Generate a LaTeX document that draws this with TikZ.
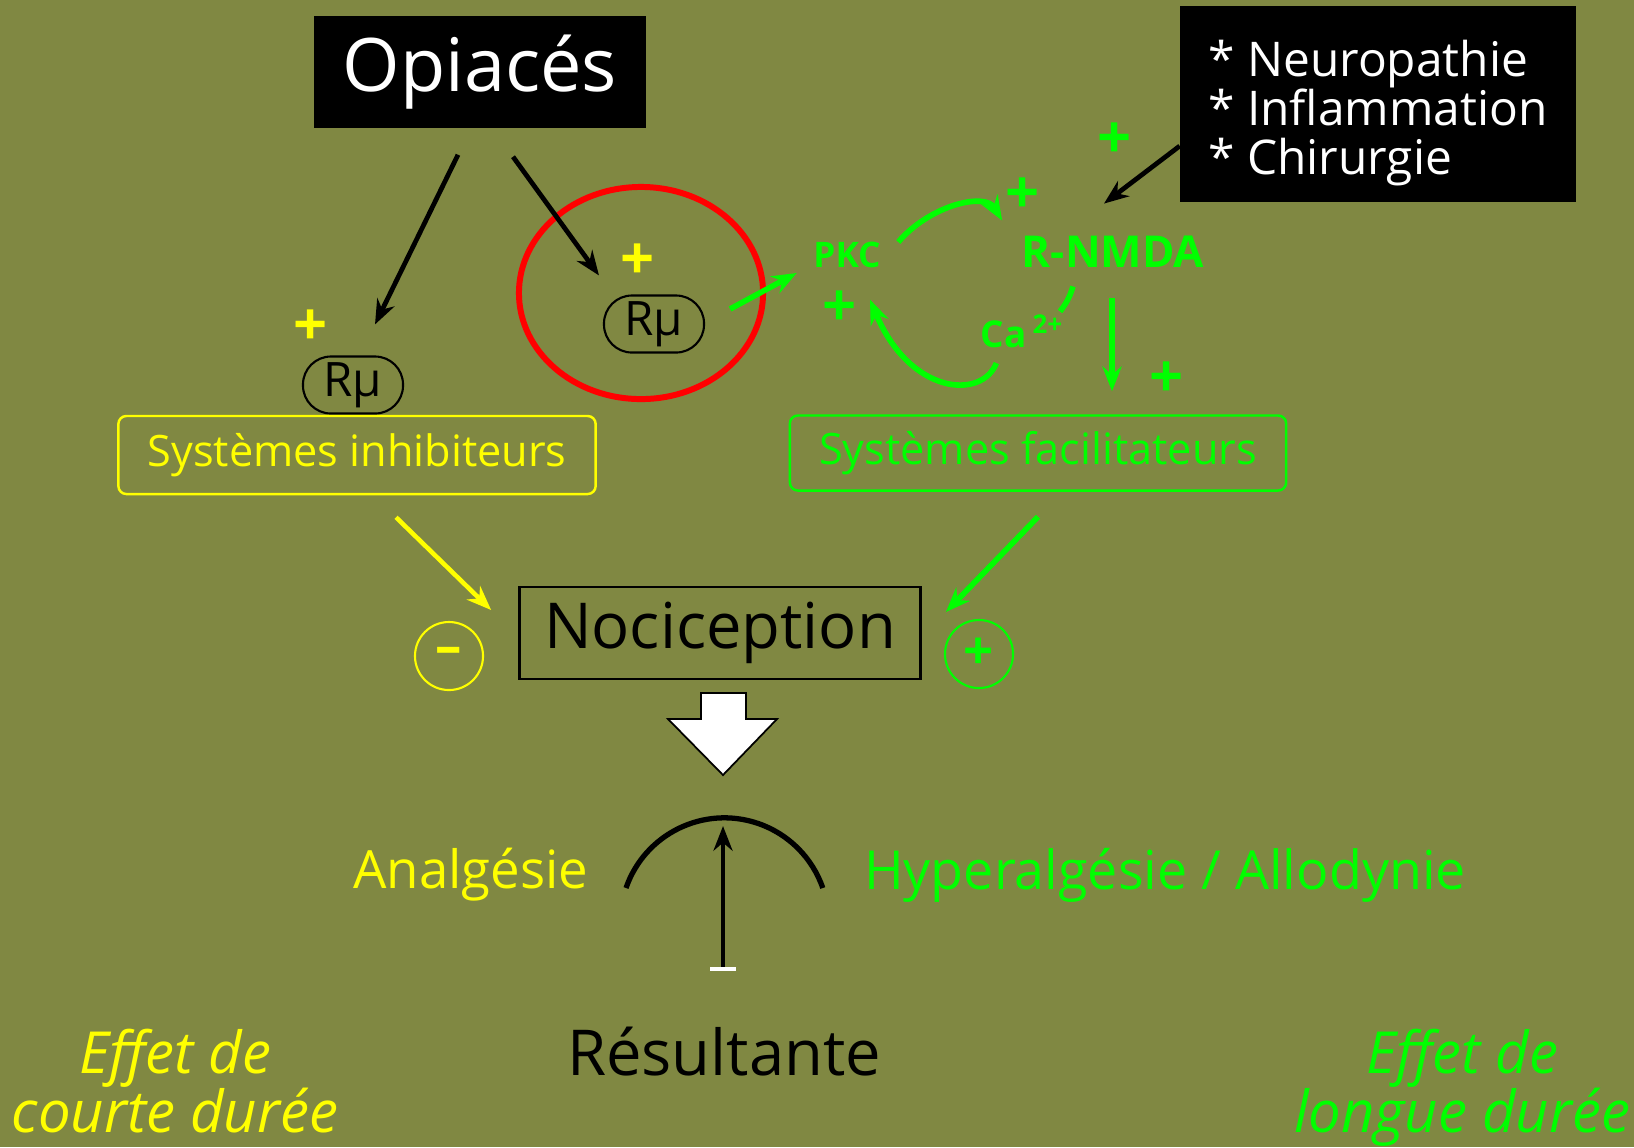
\documentclass[tikz,border=0pt]{standalone}
\usepackage{fontspec}
\setmainfont{Open Sans}
\usetikzlibrary{arrows.meta,shapes.geometric}
\definecolor{fond}{RGB}{128,136,66}
\definecolor{jaune}{RGB}{255,255,0}
\definecolor{vert}{RGB}{0,255,0}
\definecolor{rouge}{RGB}{255,0,0}
\tikzset{
  texte/.style = {inner sep=0pt, align=center},
  cadre_noir/.style = {fill=black, text=white, inner sep=0pt},% encadre noir, texte blanc
  rmu/.style = {draw=black, line width=0.6pt, rounded corners=0.28cm,
    minimum width=1cm, minimum height=0.57cm, inner sep=0pt,
    font=\fontsize{13.5}{13.5}\selectfont},% recepteur mu
  systeme/.style = {rounded corners=0.08cm, line width=0.7pt, inner sep=0pt,
    font=\fontsize{12.3}{12.3}\selectfont},
  plus_j/.style = {texte, text=jaune, font=\fontsize{17}{17}\selectfont\bfseries},
  plus_v/.style = {texte, text=vert, font=\fontsize{17}{17}\selectfont\bfseries},
  signe/.style = {circle, line width=0.6pt, minimum size=0.68cm, inner sep=0pt,
    font=\fontsize{15}{15}\selectfont\bfseries},
  fl_noire/.style = {->, line width=1.35pt},
  fl_verte/.style = {->, vert, line width=1.6pt},
  fl_jaune/.style = {->, jaune, line width=1.3pt}
}

\begin{document}
\begin{tikzpicture}[x=0.01cm, y=-0.01cm,
  >={Stealth[length=7pt, width=5.4pt]}]
\fill [fond] (0,0) rectangle (1634,1147);
\useasboundingbox (0,0) rectangle (1634,1147);

% en haut
\node [cadre_noir, minimum width=3.31cm, minimum height=1.12cm,
  font=\fontsize{21}{21}\selectfont] (opi) at (480,72) {Opiacés};
\node [cadre_noir, align=left, minimum width=3.95cm,
  minimum height=1.96cm, font=\fontsize{13.6}{13.9}\selectfont]
  (facteurs) at (1378,104)
  {\rule{0pt}{15.5pt}{*} Neuropathie\\{*} Inflammation\\{*} Chirurgie};

% recepteurs mu
\node [rmu] (rmuG) at (353,385) {Rμ};
\node [rmu] (rmuD) at (654,324) {Rμ};
\node [ellipse, draw=rouge, line width=1.7pt, minimum width=2.44cm,
  minimum height=2.12cm] (cercle) at (641,293) {};
\node [plus_j] (plusG) at (311,328) {+};
\node [plus_j] (plusD) at (638,262) {+};

% voie facilitatrice
\node [texte, text=vert, font=\fontsize{10}{10}\selectfont\bfseries] (pkc) at (847,255) {PKC};
\node [texte, text=vert, font=\fontsize{12.5}{12.5}\selectfont\bfseries] (nmda) at (1113,252) {R-NMDA};
\node [texte, text=vert, anchor=base west, font=\fontsize{10.5}{10.5}\selectfont\bfseries]
  (ca) at (980,347) {Ca\,\textsuperscript{2+}};
\node [plus_v] (plus1) at (1115,141) {+};
\node [plus_v] (plus2) at (1023,196) {+};
\node [plus_v] (plus3) at (840,309) {+};
\node [plus_v] (plus4) at (1167,380) {+};

% systemes
\node [systeme, draw=jaune, text=jaune, minimum width=4.77cm, minimum height=0.78cm]
  (inhib) at (357,455) {Systèmes inhibiteurs};
\node [systeme, draw=vert, text=vert, minimum width=4.96cm, minimum height=0.75cm]
  (facil) at (1038,453) {Systèmes facilitateurs};

% nociception
\node [draw=black, line width=0.7pt, minimum width=4.01cm, minimum height=0.92cm,
  inner sep=0pt, font=\fontsize{18}{18}\selectfont] (noci) at (720,633) {Nociception};
\node [signe, draw=jaune, text=jaune] (moins) at (449,656) {–};
\node [signe, draw=vert, text=vert] (plus) at (979,654) {+};

% balance
\node [texte, text=jaune, font=\fontsize{15}{15}\selectfont] (analg) at (471,875) {Analgésie};
\node [texte, text=vert, font=\fontsize{15.3}{15.3}\selectfont] (hyper) at (1165,875) {Hyperalgésie / Allodynie};
\node [texte, font=\fontsize{18}{18}\selectfont] (result) at (724,1052) {Résultante};
\node [texte, text=jaune, font=\fontsize{16.5}{16.8}\selectfont\itshape]
  (courte) at (175,1081) {Effet de\\courte durée};
\node [texte, text=vert, font=\fontsize{16.5}{16.8}\selectfont\itshape]
  (longue) at (1462,1088) {Effet de\\longue durée};
\coordinate (arcG) at (626,888);
\coordinate (pied) at (723,969);
\coordinate (sommet) at (723,826);

% fleches
\draw [fl_noire] ([shift={(-22,26)}]opi.south) -- ([shift={(22,-31)}]rmuG.north);
\draw [fl_noire] ([shift={(33,28)}]opi.south) -- ([shift={(-55,-19)}]rmuD.north);
\draw [fl_noire] ([shift={(0,42)}]facteurs.west) -- ([shift={(-9,-32)}]nmda.north);
\draw [fl_verte] ([shift={(25,-15)}]rmuD.east) -- ([shift={(-16,18)}]pkc.west);
\draw [fl_verte] ([shift={(17,-13)}]pkc.east) .. controls (930,205) and (985,192)
  .. ([shift={(-19,-15)}]nmda.north west);
\draw [vert, line width=1.6pt] ([shift={(-40,18)}]nmda.south) to [bend left=10]
  ([shift={(-53,43)}]nmda.south);
\draw [fl_verte] ([shift={(-26,15)}]ca.south) .. controls (982,400) and (910,395)
  .. ([shift={(23,31)}]pkc.south);
\draw [fl_verte] ([shift={(-1,30)}]nmda.south) -- ([shift={(74,-23)}]facil.north);
\draw [fl_jaune] ([shift={(39,22)}]inhib.south) -- ([shift={(-27,-23)}]noci.west);
\draw [fl_verte] ([shift={(0,25)}]facil.south) -- ([shift={(24,-21)}]noci.east);

% grosse fleche blanche
\draw [fill=white, line width=0.5pt] (701,693) -- (746,693) -- (746,719) -- (777,719)
  -- (723,775) -- (668,719) -- (701,719) -- cycle;

% arc et aiguille
\draw [line width=1.5pt] (arcG) arc [start angle=161, end angle=19, radius=1.04cm];
\draw [fl_noire] (pied) -- (sommet);
\draw [white, line width=1.3pt] ([xshift=-0.13cm]pied) -- ([xshift=0.13cm]pied);
\end{tikzpicture}
\end{document}
